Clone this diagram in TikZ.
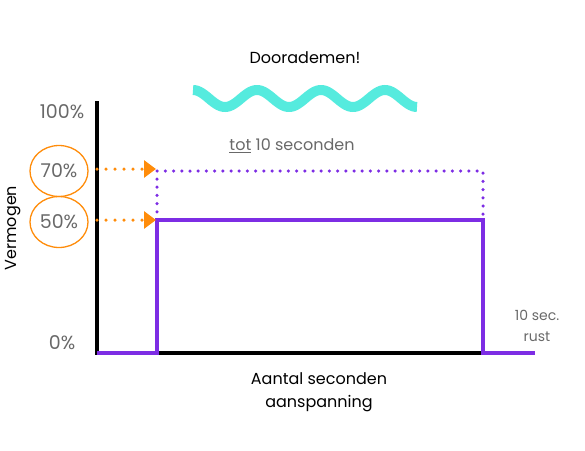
\documentclass[tikz,border=0pt]{standalone}
\usepackage{fontspec}
\setmainfont{Poppins}
\usetikzlibrary{arrows.meta,shapes.geometric}
\definecolor{paars}{RGB}{125,45,228}
\definecolor{oranje}{RGB}{255,140,10}
\definecolor{turkoois}{RGB}{85,235,222}
\definecolor{grijs}{RGB}{105,105,105}
\tikzset{
  lijn/.style={line width=4pt,color=paars},
  stip/.style={line width=3.5pt,color=paars,line cap=round,dash pattern=on 0pt off 8.2pt},
  pijl/.style={line width=3.5pt,color=oranje,line cap=round,dash pattern=on 0pt off 9pt,
    -{Triangle[length=12pt,width=17pt]}},
  ring/.style={draw=oranje,line width=1.3pt,ellipse,minimum width=58pt,minimum height=51pt}
}
\begin{document}
\begin{tikzpicture}
  [x=1pt,y=-1pt,every node/.style={font=\fontsize{16}{18}\selectfont,inner sep=0pt}]
  \useasboundingbox (0,0) rectangle (585,450);

  % assen
  \coordinate (top) at (97,101);
  \coordinate (o) at (97,353);
  \coordinate (xe) at (483,353);
  \draw [line width=4pt] (top) -- (o) -- (xe);

  % vermogen
  \coordinate (p0) at (157,353);
  \coordinate (p50) at (157,220);
  \coordinate (p70) at (157,171);
  \coordinate (q70) at (483,171);
  \coordinate (q50) at (483,220);
  \coordinate (r0) at (535,353);
  \draw [lijn] (o) -- (p0) -- (p50) -- (q50) -- (xe) -- (r0);
  \draw [stip] (p50) -- (p70) -- (q70) -- (q50);

  % percentages
  \node [text=grijs,font=\fontsize{19}{20}\selectfont] (l100) at (62,112) {100\%};
  \node [text=grijs,font=\fontsize{19}{20}\selectfont] (l0) at (62,343) {0\%};
  \node [ring,text=grijs,font=\fontsize{19}{20}\selectfont] (l70) at (59,171) {70\%};
  \node [ring,text=grijs,font=\fontsize{19}{20}\selectfont] (l50) at (59,222) {50\%};

  \coordinate (a70) at (97,169);
  \coordinate (a50) at (97,220);
  \coordinate (b70) at (156,169);
  \coordinate (b50) at (156,220);
  \foreach \from/\to in {a70/b70,a50/b50}
    \draw [pijl] (\from) -- (\to);

  % golf
  \draw [turkoois,line width=10pt,domain=193:417,samples=140]
    plot (\x,{98.5-8.5*cos((\x-193)/64*360)});

  % teksten
  \node (adem) at (305,58) {Doorademen!};
  \node [text=grijs] (tijd) at (292,146) {\underline{tot} 10 seconden};
  \node [rotate=90] (verm) at (13,228) {Vermogen};
  \node [align=center,font=\fontsize{16}{23}\selectfont] (xas) at (319,392) {Aantal seconden\\aanspanning};
  \node [align=center,text=grijs,font=\fontsize{14}{21}\selectfont] (rust) at (537,326) {10 sec.\\rust};

\end{tikzpicture}
\end{document}
